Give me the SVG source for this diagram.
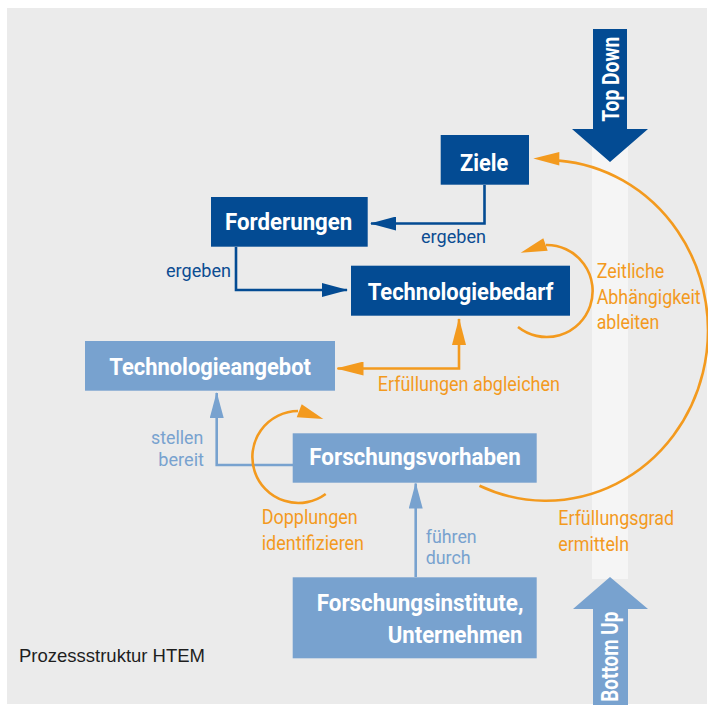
<svg xmlns="http://www.w3.org/2000/svg" width="708" height="705" viewBox="0 0 708 705">
  <defs>
    <style>
      .node-dark { fill: #034b93; }
      .node-light { fill: #78a2cf; }
      .node-text { font-family: Roboto, "Liberation Sans", sans-serif; font-weight: bold; font-size: 23px; fill: #ffffff; }
      .lbl { font-family: Roboto, "Liberation Sans", sans-serif; font-size: 20.5px; }
      .lbl-sm { font-family: Roboto, "Liberation Sans", sans-serif; font-size: 18px; }
      .c-dark { fill: #0b4c92; }
      .c-light { fill: #78a2cf; }
      .c-orange { fill: #f39a1e; }
      .ln-dark { fill: none; stroke: #034b93; stroke-width: 2.6; }
      .ln-light { fill: none; stroke: #78a2cf; stroke-width: 2.6; }
      .ln-orange { fill: none; stroke: #f39a1e; stroke-width: 2.6; }
      .head-orange { fill: #f39a1e; }
      .caption { font-family: "Liberation Sans", Arial, sans-serif; font-size: 18.5px; fill: #1e1e1e; }
    </style>
    <marker id="ah-dark" markerUnits="userSpaceOnUse" markerWidth="26" markerHeight="14" refX="25" refY="7" orient="auto-start-reverse">
      <path d="M0,0 L26,7 L0,14 Z" fill="#034b93"/>
    </marker>
    <marker id="ah-light" markerUnits="userSpaceOnUse" markerWidth="26" markerHeight="14" refX="25" refY="7" orient="auto-start-reverse">
      <path d="M0,0 L26,7 L0,14 Z" fill="#78a2cf"/>
    </marker>
    <marker id="ah-orange" markerUnits="userSpaceOnUse" markerWidth="27" markerHeight="14" refX="26" refY="7" orient="auto-start-reverse">
      <path d="M0,0 L27,7 L0,14 Z" fill="#f39a1e"/>
    </marker>
  </defs>

  <!-- panel -->
  <rect x="0" y="0" width="708" height="705" fill="#ffffff"/>
  <rect x="7" y="8" width="700" height="696" fill="#ebebeb"/>

  <!-- light vertical band between the two direction arrows -->
  <rect x="592" y="129" width="36" height="450" fill="#f5f5f5"/>

  <!-- direction arrows -->
  <g id="top-down">
    <polygon points="593,29 627,29 627,129 648,129 610,162 572,129 593,129" fill="#034b93"/>
    <text class="node-text" font-size="22" transform="translate(619,121.7) rotate(-90)" textLength="85" lengthAdjust="spacingAndGlyphs">Top Down</text>
  </g>
  <g id="bottom-up">
    <polygon points="593,705 628,705 628,609 648,609 610,577 573,609 593,609" fill="#78a2cf"/>
    <text class="node-text" font-size="22" transform="translate(618.3,701.7) rotate(-90)" textLength="90" lengthAdjust="spacingAndGlyphs">Bottom Up</text>
  </g>

  <!-- connectors -->
  <g id="connectors">
    <path class="ln-dark" d="M484.5,185 V223.5 H371" marker-end="url(#ah-dark)"/>
    <path class="ln-dark" d="M236,247 V290 H347" marker-end="url(#ah-dark)"/>
    <path class="ln-orange" d="M459,319 V368.5 H337.5" marker-start="url(#ah-orange)" marker-end="url(#ah-orange)"/>
    <path class="ln-light" d="M293,465 H216.7 V393" marker-end="url(#ah-light)"/>
    <path class="ln-light" d="M415.7,577 V483.5" marker-end="url(#ah-light)"/>

    <!-- loop: Zeitliche Abhängigkeit ableiten -->
    <path class="ln-orange" d="M518,327 A46,46 0 1 0 546,245"/>
    <polygon class="head-orange" points="520.7,252.7 543.3,238.3 547.7,250.7"/>

    <!-- loop: Dopplungen identifizieren -->
    <path class="ln-orange" d="M325.7,494 A46,46 0 1 1 298,411"/>
    <polygon class="head-orange" points="323.3,419 301.7,404.3 296.7,417.3"/>

    <!-- large arc: Erfüllungsgrad ermitteln (ellipse centre 546,330.4) -->
    <path class="ln-orange" d="M479.5,485.7 A162,170.3 0 1 0 559,160.65"/>
    <polygon class="head-orange" points="533.3,158.5 559.3,152 559.3,165.5"/>
  </g>

  <!-- edge labels -->
  <g id="labels">
    <text class="lbl-sm c-dark" x="421" y="242.7" textLength="65" lengthAdjust="spacingAndGlyphs">ergeben</text>
    <text class="lbl-sm c-dark" x="166" y="276.7" textLength="65" lengthAdjust="spacingAndGlyphs">ergeben</text>
    <text class="lbl c-orange" x="377.7" y="390.7" textLength="182.3" lengthAdjust="spacingAndGlyphs">Erfüllungen abgleichen</text>
    <text class="lbl c-orange" x="596.7" y="278.3" textLength="67.6" lengthAdjust="spacingAndGlyphs">Zeitliche</text>
    <text class="lbl c-orange" x="596.7" y="303.6" textLength="104" lengthAdjust="spacingAndGlyphs">Abhängigkeit</text>
    <text class="lbl c-orange" x="596.7" y="329.3" textLength="62.6" lengthAdjust="spacingAndGlyphs">ableiten</text>
    <text class="lbl-sm c-light" x="151" y="444.3" textLength="52.3" lengthAdjust="spacingAndGlyphs">stellen</text>
    <text class="lbl-sm c-light" x="158.3" y="466" textLength="45.7" lengthAdjust="spacingAndGlyphs">bereit</text>
    <text class="lbl c-orange" x="261.7" y="524.3" textLength="96" lengthAdjust="spacingAndGlyphs">Dopplungen</text>
    <text class="lbl c-orange" x="261.7" y="550" textLength="102.3" lengthAdjust="spacingAndGlyphs">identifizieren</text>
    <text class="lbl-sm c-light" x="425.7" y="542.7" textLength="51" lengthAdjust="spacingAndGlyphs">führen</text>
    <text class="lbl-sm c-light" x="425.7" y="564" textLength="45" lengthAdjust="spacingAndGlyphs">durch</text>
    <text class="lbl c-orange" x="558.3" y="525" textLength="115.7" lengthAdjust="spacingAndGlyphs">Erfüllungsgrad</text>
    <text class="lbl c-orange" x="558.3" y="550.7" textLength="70.7" lengthAdjust="spacingAndGlyphs">ermitteln</text>
  </g>

  <!-- nodes -->
  <g id="ziele">
    <rect class="node-dark" x="440.7" y="135" width="88.3" height="49.7"/>
    <text class="node-text" x="460" y="170.7" textLength="48.3" lengthAdjust="spacingAndGlyphs">Ziele</text>
  </g>
  <g id="forderungen">
    <rect class="node-dark" x="211" y="197" width="156.7" height="49.7"/>
    <text class="node-text" x="225" y="230" textLength="127.3" lengthAdjust="spacingAndGlyphs">Forderungen</text>
  </g>
  <g id="technologiebedarf">
    <rect class="node-dark" x="351" y="265.7" width="219" height="50"/>
    <text class="node-text" x="367.7" y="300" textLength="185.6" lengthAdjust="spacingAndGlyphs">Technologiebedarf</text>
  </g>
  <g id="technologieangebot">
    <rect class="node-light" x="85" y="341" width="250" height="49.7"/>
    <text class="node-text" x="109.3" y="375" textLength="201.7" lengthAdjust="spacingAndGlyphs">Technologieangebot</text>
  </g>
  <g id="forschungsvorhaben">
    <rect class="node-light" x="292.7" y="433.3" width="244" height="49.4"/>
    <text class="node-text" x="309.3" y="465" textLength="211.4" lengthAdjust="spacingAndGlyphs">Forschungsvorhaben</text>
  </g>
  <g id="forschungsinstitute">
    <rect class="node-light" x="292.7" y="577.3" width="244" height="81"/>
    <text class="node-text" x="316.7" y="611" textLength="206.7" lengthAdjust="spacingAndGlyphs">Forschungsinstitute,</text>
    <text class="node-text" x="387.7" y="642.7" textLength="134.7" lengthAdjust="spacingAndGlyphs">Unternehmen</text>
  </g>

  <text class="caption" x="19" y="661.5" textLength="186" lengthAdjust="spacingAndGlyphs">Prozessstruktur HTEM</text>
</svg>
